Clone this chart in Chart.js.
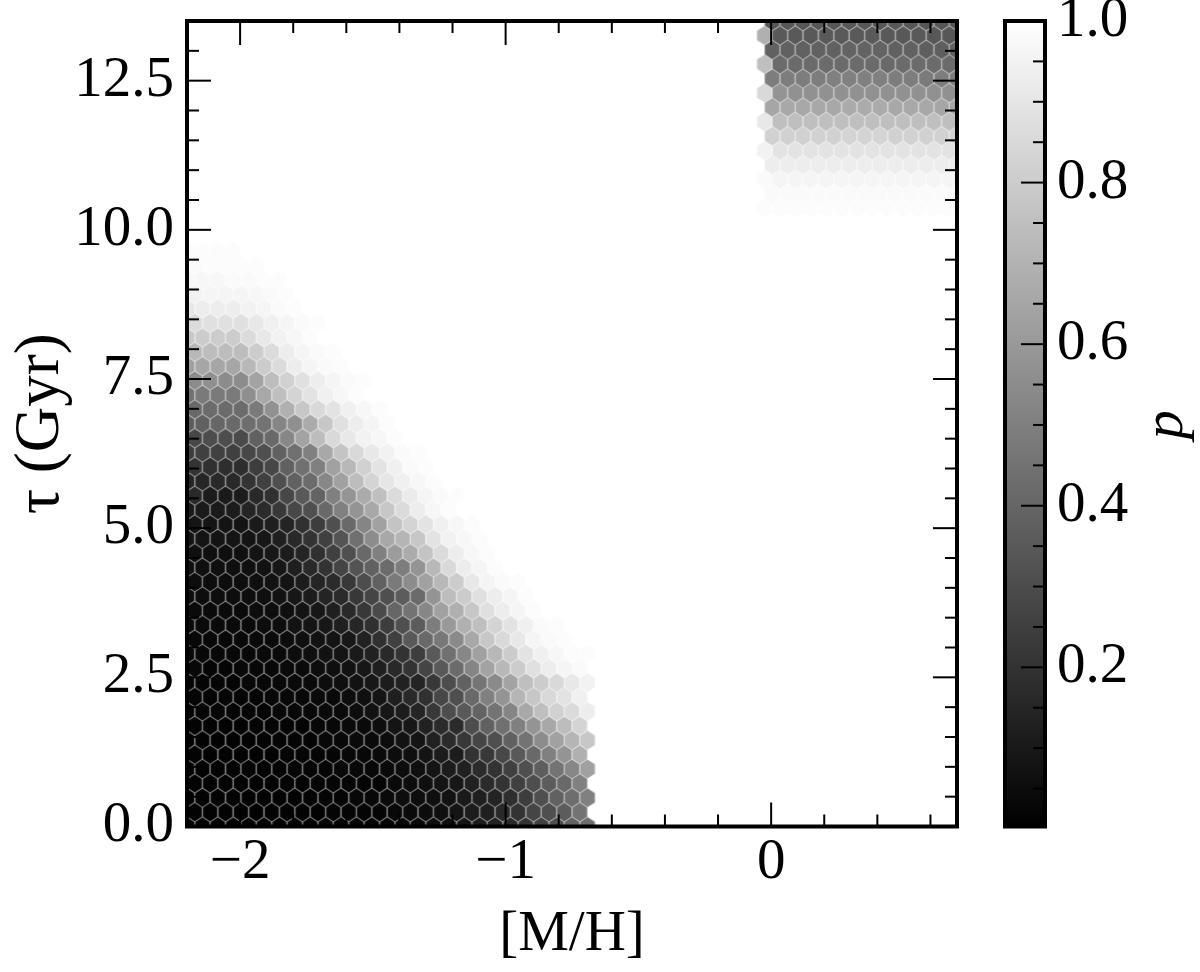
<!DOCTYPE html>
<html lang="en">
  <head>
    <meta charset="UTF-8" />
    <title>Hexbin p map</title>
    <style>
      * {
        margin: 0;
        padding: 0;
      }
      body {
        background: #fff;
      }
      canvas {
        position: absolute;
        top: 0;
      }
      #main {
        left: 0;
      }
      #bar {
        left: 990px;
      }
    </style>
  </head>
  <body>
    <canvas id="main" width="990" height="972"></canvas>
    <canvas id="bar" width="210" height="972"></canvas>

    <script src="https://cdn.jsdelivr.net/npm/chart.js"></script>
    <script>
      // p x 100, one list per hexbin row (row 0 = bottom).
      // lower left block: every row starts at the first column
      const lowerRows = [
        [1,1,1,1,1,1,1,1,1,2,2,2,2,2,3,4,5,6,8,11,13,16,20,25,31,38,43],
        [1,1,1,1,1,1,1,1,1,2,2,2,2,3,4,5,6,8,11,12,16,20,27,31,36,45],
        [1,1,1,1,1,1,1,1,2,2,2,3,3,4,5,5,6,7,10,12,14,18,24,31,38,43,50],
        [1,1,1,1,1,1,1,1,2,2,2,2,2,4,5,6,8,9,13,17,20,25,30,36,41,50],
        [1,1,1,1,1,1,1,2,2,2,3,3,3,4,5,6,8,11,13,17,20,25,31,37,45,53,63],
        [1,1,1,1,1,1,2,2,2,2,3,3,4,5,6,8,11,11,20,22,28,35,41,50,58,69],
        [1,1,1,1,1,2,2,2,2,3,3,4,4,5,7,8,13,17,22,27,31,38,45,55,63,71,78],
        [1,1,1,1,2,2,2,2,3,3,4,4,5,8,9,13,17,17,30,38,44,50,58,66,74,83],
        [2,2,2,2,2,2,3,3,3,4,4,5,7,9,11,14,22,30,35,39,45,52,66,75,82,86,93],
        [2,2,2,2,2,3,3,3,4,4,5,6,8,12,16,19,28,31,41,50,58,71,78,85,89,94],
        [2,2,2,2,3,3,3,4,4,5,6,7,9,11,13,14,22,30,38,46,54,64,75,80,85,91,95],
        [3,2,2,3,3,3,4,4,5,6,7,9,12,16,20,27,35,42,52,64,72,80,88,93,96,98],
        [3,3,3,3,3,4,4,5,6,7,8,10,13,16,20,24,35,44,53,63,72,80,89,94,97,99,99],
        [3,3,3,3,4,4,5,6,7,8,9,13,19,25,35,41,47,54,66,78,85,91,96,98,99],
        [4,4,4,4,4,5,5,7,8,9,12,15,19,24,31,36,49,60,69,75,83,89,94,98,99],
        [4,4,4,4,5,5,6,8,9,12,16,22,29,40,45,53,63,69,78,88,93,96,99],
        [5,5,5,5,5,6,7,9,11,14,17,22,27,31,36,42,58,74,80,88,93,96,99],
        [5,5,5,5,6,7,8,11,14,17,22,30,38,48,55,63,72,80,91,96,98,99],
        [6,6,6,6,6,7,9,12,16,20,27,33,38,42,49,58,72,85,93,96,99],
        [6,6,6,6,8,9,11,14,19,25,31,41,50,61,67,77,86,93,97,99],
        [8,8,8,8,8,9,12,16,20,25,33,44,55,66,71,78,89,95,97,99],
        [8,8,8,8,10,12,14,19,24,31,41,52,63,77,83,89,94,97,99],
        [10,10,10,11,14,17,22,28,31,41,50,58,66,78,86,93,97,99],
        [16,11,10,11,16,19,28,35,39,50,58,67,75,86,92,96,98,99],
        [14,15,16,16,20,25,31,38,42,53,63,74,83,90,94,97,99],
        [20,19,18,18,24,28,38,44,50,63,72,82,89,94,98,99],
        [24,25,25,25,28,31,38,44,50,66,77,85,91,95,98,99],
        [28,30,30,29,38,41,53,64,74,85,91,95,97,99],
        [36,38,40,41,43,45,52,56,67,78,88,93,96,99],
        [41,42,42,42,48,57,69,78,85,89,94,97,99],
        [44,48,48,48,56,66,75,83,89,94,97,99],
        [55,56,55,55,64,74,82,88,93,96,98,99],
        [62,65,65,65,72,80,86,93,96,98,99],
        [72,74,74,74,80,86,93,96,98,99],
        [78,80,80,80,86,91,95,97,99],
        [86,88,88,88,91,94,96,98,99],
        [91,93,93,93,95,96,98,99],
        [95,96,96,96,97,98,99],
        [97,97,97,98,98,99,99],
        [98,99,99,99,99],
        [99,99,99,99],
      ];

      // upper right block, rows 43 to 56
      const upperFirstRow = 43;
      const upperFirstColumn = [37, 38];
      const upperRows = [
        [99,99,99,99,99,99,99,99,99,99,99,99,99],
        [98,98,98,98,98,98,98,98,98,98,98,98,98],
        [98,96,96,96,96,96,96,96,96,96,96,96,96],
        [93,93,93,93,93,93,93,93,93,93,93,93,93],
        [95,89,89,89,89,89,89,89,89,89,89,89,89],
        [82,82,82,82,82,83,83,83,82,82,82,82,82],
        [91,75,75,75,75,75,75,75,75,75,75,75,75],
        [65,66,66,66,66,67,67,67,66,66,66,65,65],
        [85,58,57,57,57,57,57,57,57,57,57,57,57],
        [49,49,49,49,50,50,50,50,49,49,48,49,49],
        [75,42,42,42,42,42,42,42,41,42,42,42,42],
        [38,38,38,38,38,39,39,39,38,38,37,37,38],
        [69,35,35,35,35,35,35,35,35,35,35,34,34],
        [34,34,34,34,34,34,34,34,34,34,34,34,34],
      ];

      const xBins = 50;
      const yBins = 28;
      const xMin = -2.2;
      const xMax = 0.7;
      const yMin = 0;
      const yMax = 13.5;

      const xTicks = [-2, -1, 0];
      const xTickLabels = ["\u22122", "\u22121", "0"];
      const xMinorTicks = [-1.8, -1.6, -1.4, -1.2, -0.8, -0.6, -0.4, -0.2, 0.2, 0.4, 0.6];
      const yTicks = [0, 2.5, 5, 7.5, 10, 12.5];
      const yTickLabels = ["0.0", "2.5", "5.0", "7.5", "10.0", "12.5"];
      const yMinorTicks = [0.5, 1, 1.5, 2, 3, 3.5, 4, 4.5, 5.5, 6, 6.5, 7, 8, 8.5, 9, 9.5, 10.5, 11, 11.5, 12, 13];
      const barTicks = [0.2, 0.4, 0.6, 0.8, 1];
      const barTickLabels = ["0.2", "0.4", "0.6", "0.8", "1.0"];
      const barMinorTicks = [0.05, 0.1, 0.15, 0.25, 0.3, 0.35, 0.45, 0.5, 0.55, 0.65, 0.7, 0.75, 0.85, 0.9, 0.95];
      const pMin = 0.003;
      const pMax = 1;

      const FONT = "'Liberation Serif', serif";
      const spineWidth = 4;
      const tickWidth = 2;
      const majorLen = 24;
      const minorLen = 12;

      // row r, column c -> data position of the hexbin lattice
      function binPoints() {
        const pts = [];
        const sx = (xMax - xMin) / xBins;
        const sy = (yMax - yMin) / yBins;
        function add(r, c, v) {
          const odd = r % 2;
          pts.push({ x: xMin + (c + odd * 0.5) * sx, y: yMin + (r * sy) / 2, p: v / 100 });
        }
        lowerRows.forEach((row, r) => row.forEach((v, c) => add(r, c, v)));
        upperRows.forEach((row, k) => {
          const r = upperFirstRow + k;
          row.forEach((v, c) => add(r, upperFirstColumn[r % 2 ? 0 : 1] + c, v));
        });
        return pts;
      }

      function hexPath(h, w, t) {
        h.beginPath();
        h.moveTo(0, -t);
        h.lineTo(w, -t / 2);
        h.lineTo(w, t / 2);
        h.lineTo(0, t);
        h.lineTo(-w, t / 2);
        h.lineTo(-w, -t / 2);
        h.closePath();
      }

      // hexagon sprites, one per grey level: a paler rim under the fill gives the seams between bins
      const hexCache = {};
      function hexSprite(p) {
        const g = Math.round(p * 255);
        if (hexCache[g]) return hexCache[g];
        const c = document.createElement("canvas");
        c.width = 20;
        c.height = 24;
        const h = c.getContext("2d");
        const w = 770 / xBins / 2;
        const t = 805.5 / yBins / 3;
        const rim = Math.round(g + (255 - g) * 0.28);
        h.translate(10, 12);
        h.fillStyle = "rgb(" + rim + "," + rim + "," + rim + ")";
        hexPath(h, w, t);
        h.fill();
        h.fillStyle = "rgb(" + g + "," + g + "," + g + ")";
        hexPath(h, w - 0.9, t - 0.45);
        h.fill();
        hexCache[g] = c;
        return c;
      }

      // inward ticks and the heavy box, matplotlib style
      function framePlugin(xMajor, xMinor, yMajor, yMinor, barOnly) {
        return {
          id: "frame",
          afterDatasetsDraw(chart) {
            const c = chart.ctx;
            const a = chart.chartArea;
            const xs = chart.scales.x;
            const ys = chart.scales.y;
            c.save();
            c.strokeStyle = "#000";
            c.lineWidth = tickWidth;
            function line(x1, y1, x2, y2) {
              c.beginPath();
              c.moveTo(x1, y1);
              c.lineTo(x2, y2);
              c.stroke();
            }
            function xTick(v, len) {
              const px = xs.getPixelForValue(v);
              line(px, a.bottom, px, a.bottom - len);
              line(px, a.top, px, a.top + len);
            }
            function yTick(v, len) {
              const py = ys.getPixelForValue(v);
              if (!barOnly) line(a.left, py, a.left + len, py);
              line(a.right, py, a.right - len, py);
            }
            xMajor.forEach((v) => xTick(v, majorLen));
            xMinor.forEach((v) => xTick(v, minorLen));
            yMajor.forEach((v) => yTick(v, majorLen));
            yMinor.forEach((v) => yTick(v, minorLen));
            c.lineWidth = spineWidth;
            c.strokeRect(a.left, a.top, a.right - a.left, a.bottom - a.top);
            if (barOnly) {
              c.translate(177, (a.top + a.bottom) / 2 + 1);
              c.rotate(-Math.PI / 2);
              c.fillStyle = "#000";
              c.font = "italic 58px " + FONT;
              c.textAlign = "center";
              c.textBaseline = "middle";
              c.fillText("p", 0, 0);
            }
            c.restore();
          },
        };
      }

      function noPadding(s) {
        s.paddingTop = 0;
        s.paddingBottom = 0;
        s.paddingLeft = 0;
        s.paddingRight = 0;
      }

      new Chart(document.getElementById("main"), {
        type: "scatter",
        data: {
          datasets: [
            {
              label: "p",
              data: binPoints(),
              clip: 0,
              pointRadius: 11,
              pointBorderWidth: 0,
              pointStyle: (ctx) => (ctx.raw ? hexSprite(ctx.raw.p) : "circle"),
            },
          ],
        },
        options: {
          responsive: false,
          animation: false,
          events: [],
          layout: { padding: { left: 0, right: 33, top: 21, bottom: 0 } },
          plugins: { legend: { display: false }, tooltip: { enabled: false } },
          scales: {
            x: {
              type: "linear",
              min: xMin,
              max: xMax,
              grid: { display: false },
              border: { display: false },
              afterBuildTicks: (s) => {
                s.ticks = xTicks.map((v) => ({ value: v }));
              },
              afterFit: (s) => {
                noPadding(s);
                s.height = 145.5;
              },
              ticks: {
                autoSkip: false,
                maxRotation: 0,
                padding: -6,
                color: "#000",
                font: { family: FONT, size: 57 },
                callback: (v, i) => xTickLabels[i],
              },
              title: {
                display: true,
                text: "[M/H]",
                color: "#000",
                padding: { top: 0, bottom: 3 },
                font: { family: FONT, size: 57 },
              },
            },
            y: {
              min: yMin,
              max: yMax,
              grid: { display: false },
              border: { display: false },
              afterBuildTicks: (s) => {
                s.ticks = yTicks.map((v) => ({ value: v }));
              },
              afterFit: (s) => {
                noPadding(s);
                s.width = 187;
              },
              ticks: {
                autoSkip: false,
                padding: 5,
                color: "#000",
                font: { family: FONT, size: 57 },
                callback: (v, i) => yTickLabels[i],
              },
              title: {
                display: true,
                text: "\u03c4 (Gyr)",
                color: "#000",
                padding: { top: 4, bottom: 0 },
                font: { family: FONT, size: 63 },
              },
            },
          },
        },
        plugins: [framePlugin(xTicks, xMinorTicks, yTicks, yMinorTicks, false)],
      });

      new Chart(document.getElementById("bar"), {
        type: "bar",
        data: {
          labels: ["p"],
          datasets: [
            {
              data: [[pMin, pMax]],
              barPercentage: 1,
              categoryPercentage: 1,
              backgroundColor: (ctx) => {
                const a = ctx.chart.chartArea;
                if (!a) return "#888";
                const grad = ctx.chart.ctx.createLinearGradient(0, a.bottom, 0, a.top);
                grad.addColorStop(0, "#000");
                grad.addColorStop(1, "#fff");
                return grad;
              },
            },
          ],
        },
        options: {
          responsive: false,
          animation: false,
          events: [],
          layout: { padding: { left: 15, right: 0, top: 21, bottom: 145.5 } },
          plugins: { legend: { display: false }, tooltip: { enabled: false } },
          scales: {
            x: { display: false },
            y: {
              position: "right",
              min: pMin,
              max: pMax,
              grid: { display: false },
              border: { display: false },
              afterBuildTicks: (s) => {
                s.ticks = barTicks.map((v) => ({ value: v }));
              },
              afterFit: (s) => {
                noPadding(s);
                s.width = 155;
              },
              ticks: {
                autoSkip: false,
                padding: 4,
                color: "#000",
                font: { family: FONT, size: 57 },
                callback: (v, i) => barTickLabels[i],
              },
            },
          },
        },
        plugins: [framePlugin([], [], barTicks, barMinorTicks, true)],
      });
    </script>
  </body>
</html>
